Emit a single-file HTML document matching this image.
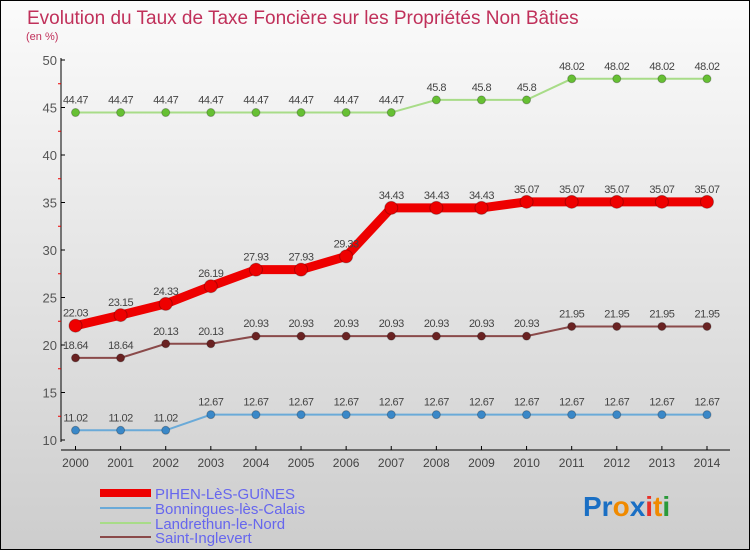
<!DOCTYPE html>
<html><head><meta charset="utf-8"><style>
body{margin:0;}
#wrap{width:750px;height:550px;position:relative;overflow:hidden;}
text{font-family:"Liberation Sans",sans-serif;}
</style></head><body>
<div id="wrap">
<svg id="chart" width="750" height="550">
<defs><linearGradient id="bg" x1="0" y1="0" x2="0" y2="1"><stop offset="0" stop-color="#fbfbfb"/><stop offset="1" stop-color="#cdcdcd"/></linearGradient></defs>
<rect x="0.5" y="0.5" width="749" height="549" fill="url(#bg)" stroke="#000"/>
<text x="27" y="24" font-size="19" fill="#c0305a">Evolution du Taux de Taxe Foncière sur les Propriétés Non Bâties</text>
<text x="26" y="40" font-size="11" fill="#c0305a">(en %)</text>
<g id="axes"></g><g id="series"></g><g id="legend"></g>
<g font-size="28" font-family="DejaVu Sans" font-weight="bold">
<text x="583" y="516"><tspan fill="#1a6fc4">Pr</tspan><tspan fill="#f08a00">o</tspan><tspan fill="#1a6fc4">x</tspan><tspan fill="#e8302a">i</tspan><tspan fill="#f08a00">t</tspan><tspan fill="#2a9a3a">i</tspan></text></g>
</svg></div>
<script>
const years=[2000,2001,2002,2003,2004,2005,2006,2007,2008,2009,2010,2011,2012,2013,2014];
const yTicks=[10,15,20,25,30,35,40,45,50];
const pihen=[22.03,23.15,24.33,26.19,27.93,27.93,29.33,34.43,34.43,34.43,35.07,35.07,35.07,35.07,35.07];
const bonn=[11.02,11.02,11.02,12.67,12.67,12.67,12.67,12.67,12.67,12.67,12.67,12.67,12.67,12.67,12.67];
const land=[44.47,44.47,44.47,44.47,44.47,44.47,44.47,44.47,45.8,45.8,45.8,48.02,48.02,48.02,48.02];
const saint=[18.64,18.64,20.13,20.13,20.93,20.93,20.93,20.93,20.93,20.93,20.93,21.95,21.95,21.95,21.95];
const names=["PIHEN-LèS-GUîNES","Bonningues-lès-Calais","Landrethun-le-Nord","Saint-Inglevert"];
const NS="http://www.w3.org/2000/svg";
const X=i=>75.5+i*(707-75.5)/(years.length-1);
const Y=v=>440-(v-10)*9.5;
function mk(tag,at,parent,txt){const e=document.createElementNS(NS,tag);for(const k in at)e.setAttribute(k,at[k]);if(txt!==undefined)e.textContent=txt;parent.appendChild(e);return e;}
const ax=document.getElementById('axes');
let e=mk('line',{x1:61,y1:58,x2:61,y2:442,stroke:'#000'},ax);


yTicks.forEach(t=>{mk('line',{x1:61,y1:Y(t),x2:65,y2:Y(t),stroke:'#000'},ax);
 const l=mk('text',{x:57,y:Y(t)+5,'font-size':13,fill:'#555','text-anchor':'end'},ax,t);
 
 
 if(t<50)mk('line',{x1:58,y1:Y(t+2.5),x2:61,y2:Y(t+2.5),stroke:'#e00'},ax);});
e=mk('line',{x1:61,y1:450,x2:730,y2:450,stroke:'#000'},ax);


years.forEach((y,i)=>{mk('line',{x1:X(i),y1:446,x2:X(i),y2:450,stroke:'#000'},ax);
 const l=mk('text',{x:X(i),y:467,'font-size':12,fill:'#444','text-anchor':'middle'},ax,y);
 
 });
const sg=document.getElementById('series');
function series(data,color,dot,w,r,name){
 const g=mk('g',{},sg);
 
 
 mk('polyline',{points:data.map((v,i)=>X(i)+','+Y(v)).join(' '),fill:'none',stroke:color,'stroke-width':w},g);
 data.forEach((v,i)=>{const c=mk('circle',{cx:X(i),cy:Y(v),r:r,fill:dot,stroke:'rgba(0,0,0,0.25)'},g);
  
  
  mk('text',{x:X(i),y:Y(v)-9,'font-size':11,fill:'#444','text-anchor':'middle','letter-spacing':'-0.5'},g,v);});
}
series(land,'#a8dc88','#66c033',2,4,'series-landrethun');
series(saint,'#8a4a4a','#6a2222',2,4,'series-saint-inglevert');
series(bonn,'#6aaad8','#3a88c8',2,4,'series-bonningues');
series(pihen,'#ee0000','#ee0000',9,6.5,'series-pihen');
const lg=document.getElementById('legend');
const cols=['#ee0000','#6aaad8','#a8dc88','#8a4a4a'],ws=[8,2,2,2],ly=[493,508,523,537];
names.forEach((n,i)=>{const g=mk('g',{},lg);
 
 
 mk('line',{x1:100,y1:ly[i],x2:151,y2:ly[i],stroke:cols[i],'stroke-width':ws[i]},g);
 mk('text',{x:155,y:ly[i]+6,'font-size':15,fill:'#6666ee'},g,n);});
</script></body></html>
